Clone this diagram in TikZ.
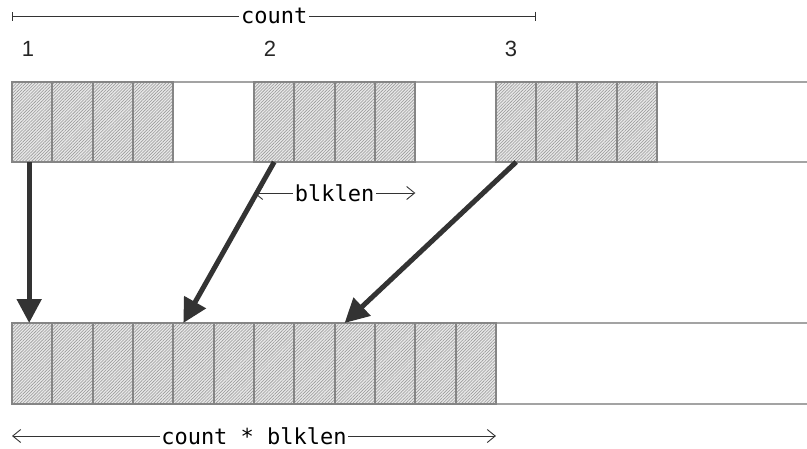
\documentclass[tikz,border=0pt]{standalone}
\usepackage{fontspec}
\setmainfont{Liberation Sans}
\setmonofont{DejaVu Sans Mono}
\usetikzlibrary{patterns.meta,arrows.meta,backgrounds}

\tikzset{openarrow/.tip={Straight Barb[length=8pt,width=13pt]}}

\begin{document}
\begin{tikzpicture}[x=1pt,y=-1pt,
  cell/.style={draw=black!48,line width=1.8pt,preaction={fill=black!9},pattern={Lines[angle=45,distance=2.2pt,line width=0.6pt]},pattern color=black!40,minimum width=40.33pt,minimum height=80pt,inner sep=0pt,outer sep=0pt},
  rail/.style={draw=black!36,line width=1.4pt},
  dim/.style={draw=black!80,line width=0.9pt},
  dimlabel/.style={font=\ttfamily\fontsize{22}{26}\selectfont,fill=white,inner sep=1.5pt},
  num/.style={font=\fontsize{22}{26}\selectfont,text=black!85},
  copyarrow/.style={draw=black!80,line width=5pt,-{Triangle[length=24pt,width=24pt]}}]
  \useasboundingbox (0,0) rectangle (807,448);
  % source blocks
  \foreach \g in {0,1,2}
    \foreach \c in {0,...,3}
      \node[cell] (t-\g-\c) at ({32.17+242*\g+40.33*\c},122) {};
  % packed result
  \foreach \c in {0,...,11}
    \node[cell,minimum height=81pt] (b-\c) at ({32.17+40.33*\c},363.5) {};
  \coordinate (right) at (807,0);
  \begin{scope}[on background layer]
    \draw[rail] (t-0-0.north west) -- (t-0-0.north west -| right);
    \draw[rail] (t-0-0.south west) -- (t-0-0.south west -| right);
    \draw[rail] (b-0.north west) -- (b-0.north west -| right);
    \draw[rail] (b-0.south west) -- (b-0.south west -| right);
  \end{scope}
  \node[num] (n-1) at (28,49) {1};
  \node[num] (n-2) at (270,49) {2};
  \node[num] (n-3) at (511,49) {3};
  % dimensions
  \node[dimlabel] (count) at (t-1-0.center |- 0,16) {count};
  \draw[dim,{Bar[width=9pt]}-] (t-0-0.west |- count) -- (count.west);
  \draw[dim,-{Bar[width=9pt]}] (count.east) -- (t-2-0.east |- count);
  \node[dimlabel] (blk) at (t-1-1.east |- 0,193) {blklen};
  \draw[dim,openarrow-] (t-1-0.west |- blk) -- (blk.west);
  \draw[dim,-openarrow] (blk.east) -- (t-1-3.east |- blk);
  \node[dimlabel] (total) at (b-5.east |- 0,436) {count * blklen};
  \draw[dim,openarrow-] (b-0.west |- total) -- (total.west);
  \draw[dim,-openarrow] (total.east) -- (b-11.east |- total);
  % copies
  \draw[copyarrow] ([xshift=-3pt]t-0-0.south) -- ([xshift=-3pt]b-0.north);
  \draw[copyarrow] (t-1-0.south) -- ([xshift=10pt]b-4.north west);
  \draw[copyarrow] (t-2-0.south) -- ([xshift=10pt]b-8.north west);
\end{tikzpicture}
\end{document}
